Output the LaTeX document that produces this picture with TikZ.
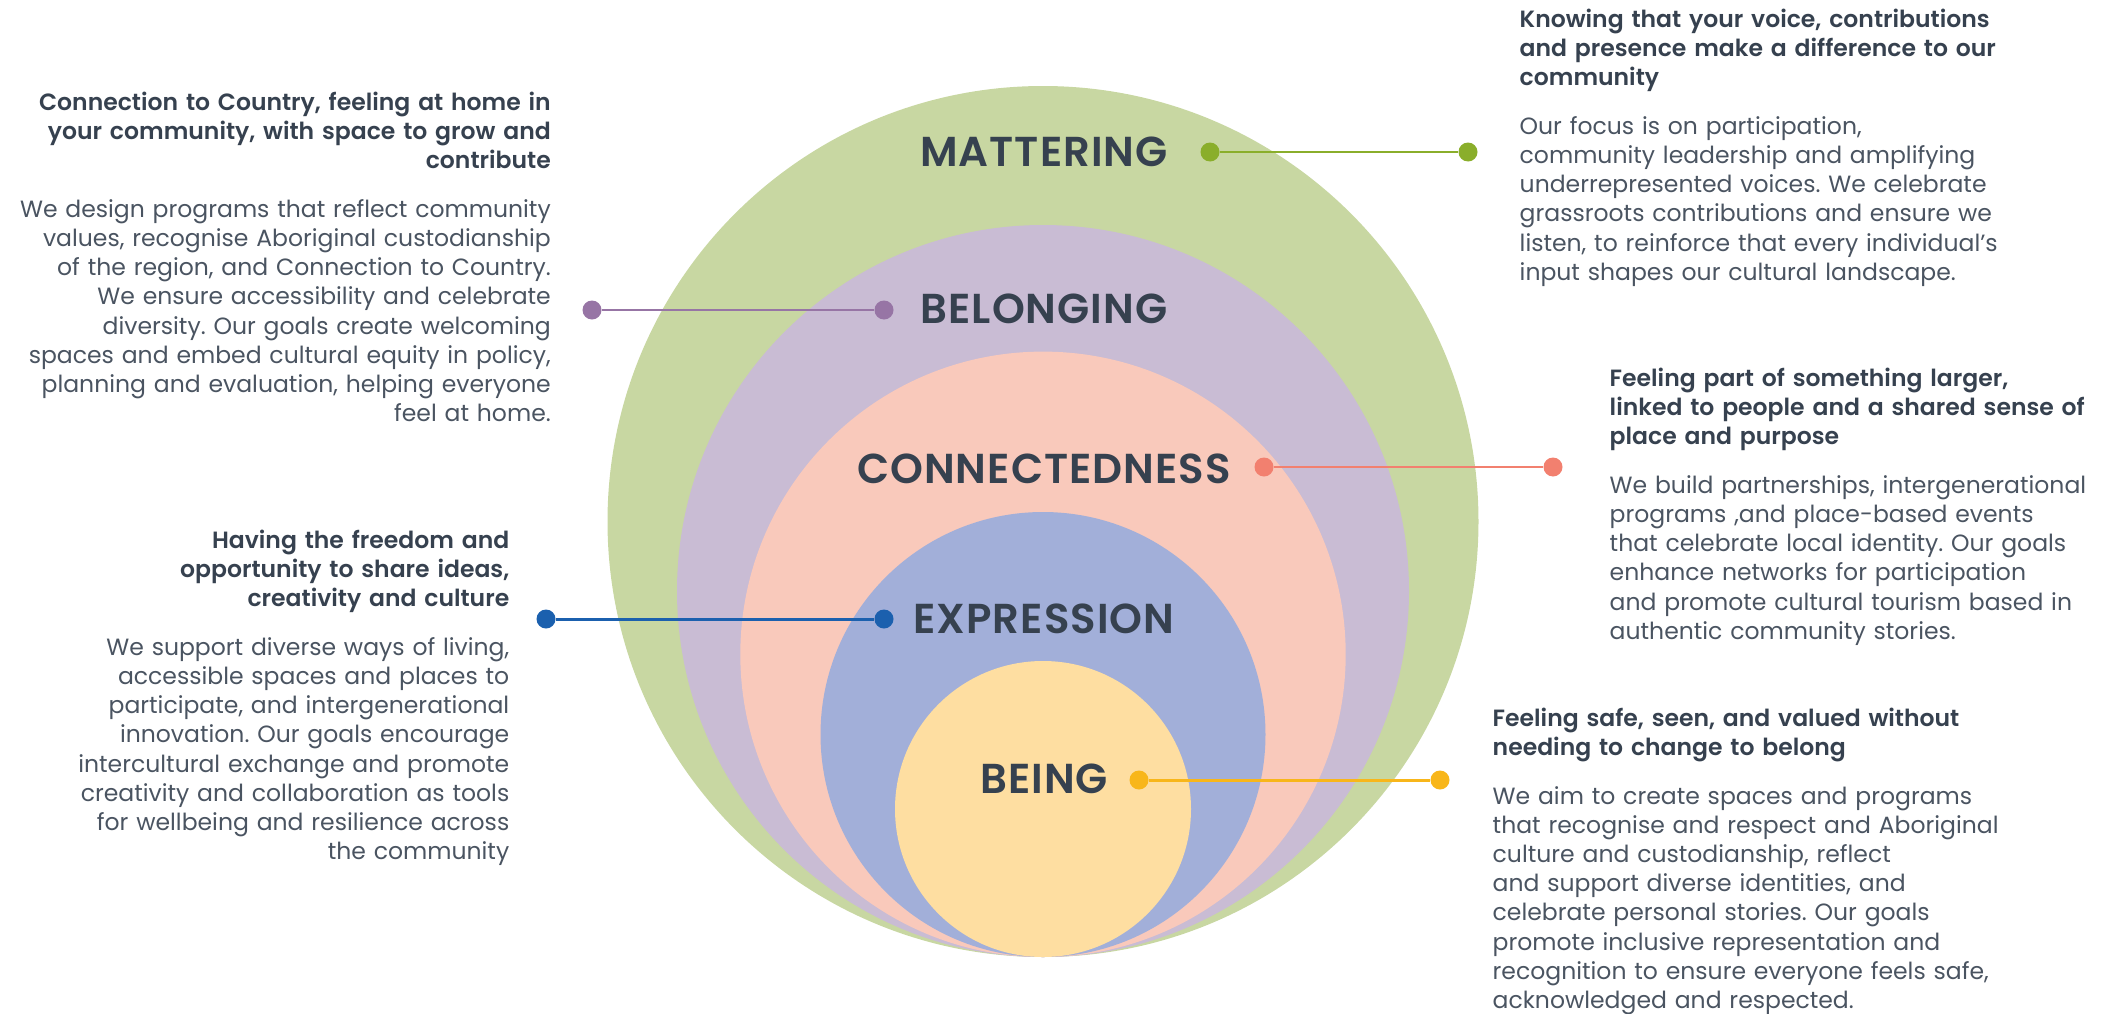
\documentclass[tikz,border=0pt]{standalone}
\usepackage{fontspec}
\setmainfont{Poppins}
\IfFontExistsTF{Poppins SemiBold}
  {\newfontfamily\headfont{Poppins SemiBold}
   \newfontfamily\ringfont{Poppins SemiBold}[LetterSpace=2.5]}
  {\newcommand\headfont{\bfseries}
   \newcommand\ringfont{\bfseries}}
\frenchspacing

% ring fills
\definecolor{matfill}{HTML}{C8D7A2}
\definecolor{belfill}{HTML}{C9BCD4}
\definecolor{confill}{HTML}{F9C9BB}
\definecolor{expfill}{HTML}{A2AFD9}
\definecolor{beifill}{HTML}{FEDEA1}
% pin colours
\definecolor{matpin}{HTML}{8AAE2B}
\definecolor{belpin}{HTML}{9775A5}
\definecolor{conpin}{HTML}{F2806F}
\definecolor{exppin}{HTML}{1B60AE}
\definecolor{beipin}{HTML}{F8B61A}
% text
\definecolor{inkdark}{HTML}{36414F}
\definecolor{inkgrey}{HTML}{4A5461}

\newcommand\notehead[1]{{\headfont\color{inkdark}#1}}

\tikzset{
  ringlabel/.style={font=\ringfont\fontsize{11.9}{14}\selectfont, text=inkdark, inner sep=0pt},
  dotnode/.style={circle, fill=#1, inner sep=0pt, minimum size=0.19cm},
  linkline/.style={draw=#1, line width=0.85pt},
  blurb/.style={font=\fontsize{6.69}{8.31}\selectfont, text=inkgrey, inner sep=0pt, text width=6.2cm},
}

\begin{document}
\begin{tikzpicture}
  \useasboundingbox (0,0) rectangle (21.04,-10.13);
  % nested rings, all touching at the bottom
  \foreach \r/\c in {4.355/matfill, 3.66/belfill, 3.027/confill, 2.225/expfill, 1.48/beifill}
    \fill[\c] (10.43,{-9.57+\r}) circle (\r);
  % ring names
  \node[ringlabel] (matlabel) at (10.44,-1.52) {MATTERING};
  \node[ringlabel] (bellabel) at (10.44,-3.09) {BELONGING};
  \node[ringlabel] (conlabel) at (10.44,-4.69) {CONNECTEDNESS};
  \node[ringlabel] (explabel) at (10.44,-6.19) {EXPRESSION};
  \node[ringlabel] (beilabel) at (10.44,-7.79) {BEING};
  % pins
  \node[dotnode=matpin] (matdot) at (12.10,-1.52) {};
  \node[dotnode=matpin] (matend) at (14.68,-1.52) {};
  \node[dotnode=belpin] (beldot) at (8.84,-3.10) {};
  \node[dotnode=belpin] (belend) at (5.92,-3.10) {};
  \node[dotnode=conpin] (condot) at (12.64,-4.67) {};
  \node[dotnode=conpin] (conend) at (15.53,-4.67) {};
  \node[dotnode=exppin] (expdot) at (8.84,-6.19) {};
  \node[dotnode=exppin] (expend) at (5.46,-6.19) {};
  \node[dotnode=beipin] (beidot) at (11.39,-7.80) {};
  \node[dotnode=beipin] (beiend) at (14.40,-7.80) {};
  \draw[linkline=matpin] (matdot) -- (matend);
  \draw[linkline=belpin] (beldot) -- (belend);
  \draw[linkline=conpin] (condot) -- (conend);
  \draw[linkline=exppin] (expdot) -- (expend);
  \draw[linkline=beipin] (beidot) -- (beiend);
  % notes
  \node[blurb, align=left, anchor=base west] (matnote) at (15.19,-0.27) {%
    \notehead{Knowing that your voice, contributions\\ and presence make a difference to our\\ community}\\[5.6pt]
    Our focus is on participation,\\ community leadership and amplifying\\ underrepresented voices. We celebrate\\
    grassroots contributions and ensure we\\ listen, to reinforce that every individual’s\\ input shapes our cultural landscape.};
  \node[blurb, align=right, anchor=base east] (belnote) at (5.515,-1.10) {%
    \notehead{Connection to Country, feeling at home in\\ your community, with space to grow and\\ contribute}\\[5.6pt]
    We design programs that reflect community\\ values, recognise Aboriginal custodianship\\ of the region, and Connection to Country.\\
    We ensure accessibility and celebrate\\ diversity. Our goals create welcoming\\ spaces and embed cultural equity in policy,\\
    planning and evaluation, helping everyone\\ feel at home.};
  \node[blurb, align=left, anchor=base west] (connote) at (16.09,-3.86) {%
    \notehead{Feeling part of something larger,\\ linked to people and a shared sense of\\ place and purpose}\\[5.6pt]
    We build partnerships, intergenerational\\ programs ,and place-based events\\ that celebrate local identity. Our goals\\
    enhance networks for participation\\ and promote cultural tourism based in\\ authentic community stories.};
  \node[blurb, align=right, anchor=base east] (expnote) at (5.10,-5.48) {%
    \notehead{Having the freedom and\\ opportunity to share ideas,\\ creativity and culture}\\[5.6pt]
    We support diverse ways of living,\\ accessible spaces and places to\\ participate, and intergenerational\\
    innovation. Our goals encourage\\ intercultural exchange and promote\\ creativity and collaboration as tools\\
    for wellbeing and resilience across\\ the community};
  \node[blurb, align=left, anchor=base west] (beinote) at (14.92,-7.26) {%
    \notehead{Feeling safe, seen, and valued without\\ needing to change to belong}\\[5.6pt]
    We aim to create spaces and programs\\ that recognise and respect and Aboriginal\\ culture and custodianship, reflect\\
    and support diverse identities, and\\ celebrate personal stories. Our goals\\ promote inclusive representation and\\
    recognition to ensure everyone feels safe,\\ acknowledged and respected.};
\end{tikzpicture}
\end{document}
